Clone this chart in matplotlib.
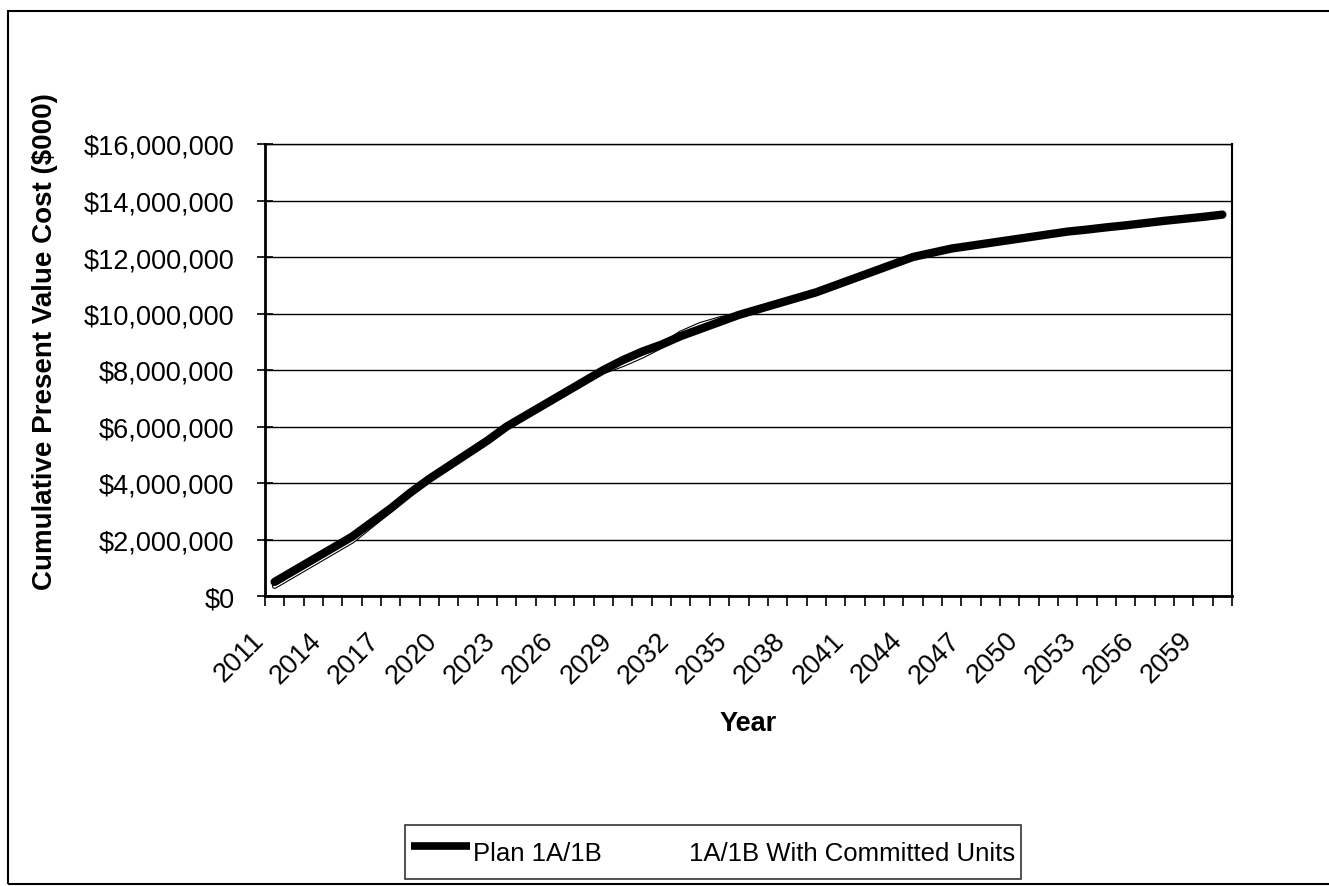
import matplotlib
matplotlib.use("Agg")
import matplotlib.pyplot as plt
import matplotlib.patheffects as pe
import matplotlib.transforms as mtrans
from matplotlib.lines import Line2D
from matplotlib.patches import Rectangle
from matplotlib.ticker import FuncFormatter, FixedLocator, NullFormatter

plt.rcParams["font.family"] = ["Liberation Sans", "DejaVu Sans"]

# Cumulative present value cost (millions on the axis scale)
years = list(range(2011, 2061))
plan_1a1b = [0.50, 0.90, 1.30, 1.70, 2.10, 2.60, 3.10, 3.65, 4.15, 4.60,
             5.05, 5.50, 6.00, 6.40, 6.80, 7.20, 7.60, 8.00, 8.35, 8.65,
             8.90, 9.20, 9.45, 9.70, 9.95, 10.15, 10.35, 10.55, 10.75, 11.00,
             11.25, 11.50, 11.75, 12.00, 12.15, 12.30, 12.40, 12.50, 12.60, 12.70,
             12.80, 12.90, 12.97, 13.05, 13.12, 13.20, 13.28, 13.35, 13.42, 13.50]
committed = [0.35, 0.75, 1.15, 1.55, 1.95, 2.50, 3.05, 3.65, 4.15, 4.60,
             5.05, 5.50, 6.00, 6.40, 6.80, 7.20, 7.60, 7.95, 8.20, 8.50,
             8.85, 9.30, 9.60, 9.80, 9.95, 10.15, 10.35, 10.55, 10.75, 11.00,
             11.25, 11.50, 11.75, 12.00, 12.15, 12.30, 12.40, 12.50, 12.60, 12.70,
             12.80, 12.90, 12.97, 13.05, 13.12, 13.20, 13.28, 13.35, 13.42, 13.50]
y_ticks = [0, 2, 4, 6, 8, 10, 12, 14, 16]
label_years = years[::3]

fig = plt.figure(figsize=(13.29, 8.87), dpi=100)
ax = fig.add_axes([265 / 1329, 1 - 597 / 887, (1232 - 265) / 1329, (597 - 145) / 887])

x = list(range(len(years)))

# committed-units series drawn as a hollow (white, outlined) line under the plan line
ax.plot(x, committed, color="white", lw=2.4, zorder=3, solid_capstyle="round",
        path_effects=[pe.Stroke(linewidth=4.0, foreground="black"), pe.Normal()])
ax.plot(x, plan_1a1b, color="black", lw=6, zorder=4, solid_capstyle="round")

ax.set_xlim(-0.5, len(years) - 0.5)
ax.set_ylim(0, 16)
ax.yaxis.set_major_locator(FixedLocator(y_ticks))
ax.yaxis.set_major_formatter(FuncFormatter(lambda v, p: "${:,.0f}".format(v * 1e6)))
ax.grid(axis="y", color="black", lw=1.0)
ax.set_axisbelow(True)

# ticks on category boundaries, labels every third year (placed by hand, Excel style)
ax.set_xticks([i - 0.5 for i in range(len(years) + 1)])
ax.xaxis.set_major_formatter(NullFormatter())
ax.tick_params(axis="x", direction="out", length=7, width=1.2)
lab_trans = mtrans.blended_transform_factory(ax.transData, ax.transAxes) + \
    mtrans.ScaledTranslation(-15 / 100, -40 / 100, fig.dpi_scale_trans)
for yr in label_years:
    ax.text(years.index(yr), 0, str(yr), transform=lab_trans, rotation=45,
            ha="right", va="center", rotation_mode="anchor", fontsize=19.5)
ax.tick_params(axis="y", direction="inout", length=12, width=1.2, labelsize=19.5, pad=16)

for s in ax.spines.values():
    s.set_color("black")
ax.spines["left"].set_linewidth(2)
ax.spines["bottom"].set_linewidth(2)
ax.spines["right"].set_linewidth(1.5)
ax.spines["top"].set_linewidth(1.0)

ax.set_ylabel("Cumulative Present Value Cost ($000)", fontsize=20, fontweight="bold")
ax.yaxis.set_label_coords(-0.214, 0.565)
ax.set_xlabel("Year", fontsize=19.5, fontweight="bold", va="top")
ax.xaxis.set_label_coords(0.5, -0.252)

handles = [Line2D([], [], color="black", lw=5.5, solid_capstyle="butt"),
           Line2D([], [], color="white", lw=2)]
leg = fig.legend(handles, ["Plan 1A/1B", "1A/1B With Committed Units"], ncol=2,
                 loc="center", bbox_to_anchor=(713 / 1329, 1 - 853 / 887),
                 fontsize=18.5, frameon=True, fancybox=False, handlelength=2.3,
                 handleheight=2.1, handletextpad=0.1, columnspacing=1.0,
                 borderpad=0.25, borderaxespad=0)
leg.get_frame().set_edgecolor("black")
leg.get_frame().set_linewidth(1.2)

# outer chart border
fig.patches.append(Rectangle((8 / 1329, 2 / 887), 1325 / 1329, (887 - 14) / 887,
                             transform=fig.transFigure, fill=False, edgecolor="black", lw=1.5))

fig.savefig("out.png", dpi=100)
